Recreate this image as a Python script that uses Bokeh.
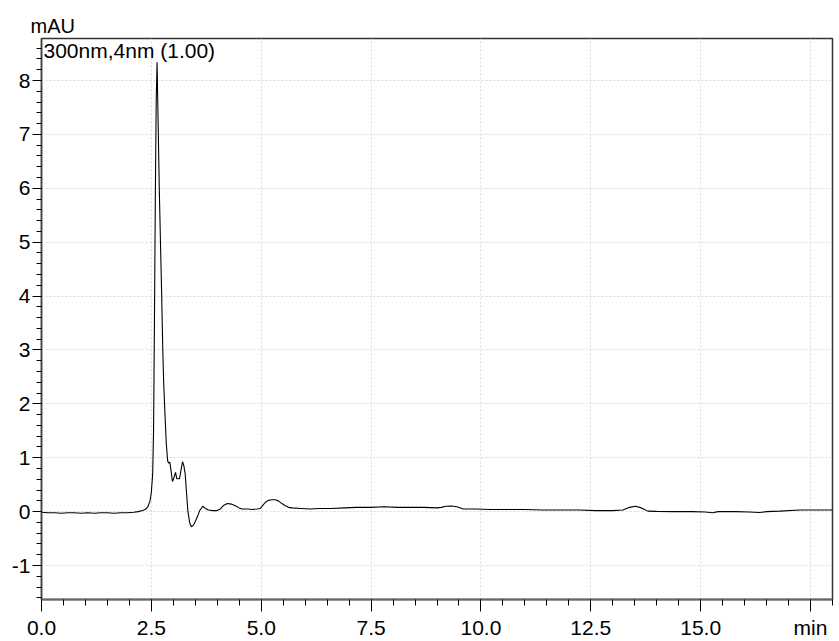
from bokeh.plotting import figure
from bokeh.models import FixedTicker, Label, ColumnDataSource, Range1d
from bokeh.embed import file_html
from bokeh.resources import INLINE

# Retention time (min) and absorbance (mAU)
time_min = [0.0, 0.15, 0.3, 0.45, 0.6, 0.75, 0.9, 1.05, 1.2, 1.35, 1.5, 1.65, 1.8, 1.95, 2.1, 2.2, 2.3,
            2.36, 2.42, 2.47, 2.50, 2.53, 2.55, 2.57, 2.59, 2.61, 2.63, 2.65, 2.68, 2.71, 2.73, 2.76,
            2.78, 2.81, 2.84, 2.87, 2.89, 2.92, 2.95, 2.98, 3.01, 3.05, 3.08, 3.14, 3.18, 3.21, 3.24,
            3.27, 3.30, 3.33, 3.37, 3.41, 3.46, 3.54, 3.60, 3.67, 3.73, 3.80, 3.90, 3.99, 4.07, 4.15,
            4.23, 4.32, 4.41, 4.50, 4.56, 4.70, 4.80, 4.90, 4.98, 5.04, 5.09, 5.16, 5.24, 5.32, 5.39,
            5.47, 5.55, 5.62, 5.70, 5.9, 6.1, 6.34, 6.6, 6.9, 7.17, 7.5, 7.8, 8.1, 8.4, 8.7, 9.0, 9.1,
            9.2, 9.33, 9.45, 9.6, 9.9, 10.2, 10.6, 11.0, 11.4, 11.8, 12.25, 12.6, 13.0, 13.23, 13.38,
            13.52, 13.65, 13.8, 14.0, 14.4, 14.8, 15.1, 15.27, 15.4, 15.8, 16.1, 16.34, 16.5, 16.8,
            17.25, 17.6, 18.0]
absorbance = [-0.01, -0.02, -0.02, -0.03, -0.02, -0.02, -0.03, -0.02, -0.03, -0.02, -0.02, -0.03, -0.02,
              -0.02, -0.01, 0.0, 0.02,
              0.04, 0.09, 0.2, 0.36, 0.7, 1.5, 3.5, 5.8, 7.6, 8.34, 7.4, 6.0, 4.9, 4.2, 3.0,
              2.4, 1.8, 1.26, 0.95, 0.9, 0.92, 0.75, 0.56, 0.62, 0.73, 0.61, 0.61, 0.8, 0.93, 0.85,
              0.7, 0.35, 0.02, -0.2, -0.28, -0.25, -0.11, 0.02, 0.10, 0.06, 0.03, 0.02, 0.02, 0.05, 0.12,
              0.15, 0.14, 0.11, 0.07, 0.05, 0.05, 0.04, 0.05, 0.06, 0.12, 0.17, 0.21, 0.22, 0.22, 0.20,
              0.15, 0.11, 0.08, 0.07, 0.06, 0.05, 0.06, 0.06, 0.07, 0.08, 0.08, 0.09, 0.08, 0.08, 0.08, 0.07, 0.08,
              0.10, 0.105, 0.09, 0.05, 0.05, 0.04, 0.04, 0.04, 0.03, 0.03, 0.03, 0.02, 0.02, 0.03, 0.08,
              0.10, 0.07, 0.01, 0.005, 0.0, 0.0, -0.005, -0.02, 0.0, 0.0, -0.005, -0.015, 0.0, 0.01,
              0.03, 0.03, 0.03]

x_major = [0.0, 2.5, 5.0, 7.5, 10.0, 12.5, 15.0, 17.5]
x_labels = {0: "0.0", 2.5: "2.5", 5: "5.0", 7.5: "7.5", 10: "10.0", 12.5: "12.5", 15: "15.0", 17.5: "min"}
y_major = [-1, 0, 1, 2, 3, 4, 5, 6, 7, 8]
y_labels = {v: str(v) for v in y_major}
channel_label = "300nm,4nm (1.00)"
unit_label = "mAU"

FONT = "Liberation Sans"

p = figure(width=839, height=641, output_backend="svg", toolbar_location=None,
           x_range=Range1d(0, 18.0), y_range=Range1d(-1.63, 8.78),
           min_border_left=41, min_border_right=7, min_border_top=38, min_border_bottom=42,
           title=unit_label)

p.title.text_font = FONT
p.title.text_font_size = "20px"
p.title.text_font_style = "normal"
p.title.text_color = "black"
p.title.align = "left"
p.title.offset = -11
p.title.standoff = 3

src = ColumnDataSource(dict(t=time_min, a=absorbance))
p.line("t", "a", source=src, line_color="black", line_width=1.1)

p.outline_line_color = "#333333"
p.outline_line_width = 1.5
p.background_fill_color = "white"
p.border_fill_color = "white"

# X axis
xa = p.xaxis[0]
xa.ticker = FixedTicker(ticks=x_major, minor_ticks=[i * 0.5 for i in range(0, 37)])
xa.major_label_overrides = x_labels
xa.major_tick_out = 12
xa.major_tick_in = 0
xa.minor_tick_out = 6
xa.minor_tick_in = 0
xa.axis_line_color = "#666666"
xa.axis_line_width = 2
xa.major_tick_line_color = "black"
xa.minor_tick_line_color = "black"
xa.major_label_text_font = FONT
xa.major_label_text_font_size = "21px"
xa.major_label_text_color = "black"
xa.major_label_standoff = 4

# Y axis
ya = p.yaxis[0]
ya.ticker = FixedTicker(ticks=y_major, minor_ticks=[round(-1.6 + i * 0.2, 2) for i in range(0, 53)])
ya.major_label_overrides = y_labels
ya.major_tick_out = 9
ya.major_tick_in = 0
ya.minor_tick_out = 5
ya.minor_tick_in = 0
ya.axis_line_color = "#444444"
ya.axis_line_width = 1.5
ya.major_tick_line_color = "black"
ya.minor_tick_line_color = "black"
ya.major_label_text_font = FONT
ya.major_label_text_font_size = "21px"
ya.major_label_text_color = "black"
ya.major_label_standoff = 2

# Grid
for g in (p.xgrid[0], p.ygrid[0]):
    g.grid_line_color = "#dadada"
    g.grid_line_dash = "2 2"
    g.grid_line_width = 1

p.add_layout(Label(x=0, y=8.78, x_offset=2, y_offset=0, text=channel_label,
                   text_font=FONT, text_font_size="21px", text_color="black",
                   text_baseline="top", text_align="left"))

open("out.html", "w").write(file_html(p, INLINE))
